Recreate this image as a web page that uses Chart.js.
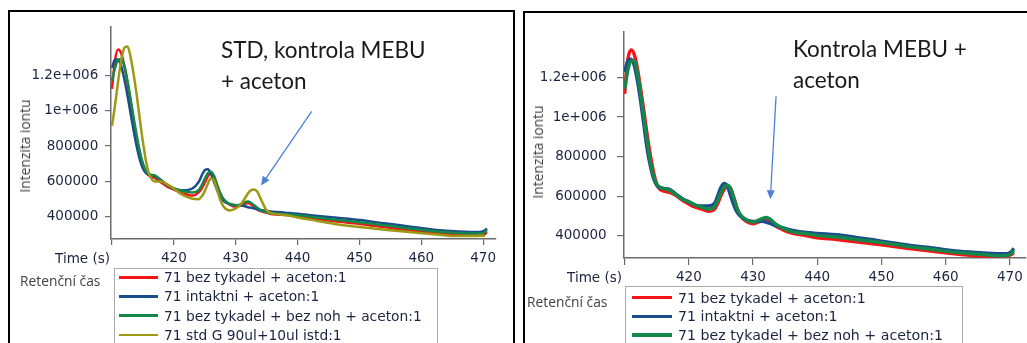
<!DOCTYPE html>
<html><head><meta charset="utf-8">
<script src="https://cdn.jsdelivr.net/npm/chart.js@4.4.1/dist/chart.umd.min.js"></script>
<style>
html,body{margin:0;padding:0;background:#fff;}
body{position:relative;width:1027px;height:343px;overflow:hidden;}
.panel{position:absolute;border:2px solid #000;box-sizing:border-box;}
#p1{left:8px;top:10px;width:507px;height:360px;}
#p2{left:523px;top:11px;width:530px;height:360px;}
canvas{position:absolute;}
.txt{position:absolute;white-space:nowrap;}
.title{font-family:Lato,'Open Sans',sans-serif;font-size:22.5px;line-height:31px;color:#1a1a1a;}
.ytitle{font-family:'Open Sans','Noto Sans',sans-serif;font-size:13.8px;line-height:16px;color:#404040;transform:translate(-50%,-50%) rotate(-90deg);}
.xtitle{font-family:'DejaVu Sans',Verdana,sans-serif;font-size:13.5px;line-height:16px;color:#1b2440;text-align:right;}
.ret{font-family:'Open Sans','Noto Sans',sans-serif;font-size:13.8px;line-height:16px;color:#404040;}
.legend{position:absolute;border:1px solid #ababab;background:#fff;box-sizing:border-box;font-family:'DejaVu Sans',Verdana,sans-serif;color:#1b2440;}
.legend .row{display:flex;align-items:center;white-space:nowrap;}
.legend .ln{display:inline-block;}
</style>
</head>
<body>
<div class="panel" id="p1"></div>
<div class="panel" id="p2"></div>
<canvas id="c1" width="500" height="290" style="left:11px;top:12px;width:500px;height:290px;"></canvas>
<canvas id="c2" width="501" height="300" style="left:526px;top:13px;width:501px;height:300px;"></canvas>

<div class="txt title" style="left:221px;top:34px;">STD, kontrola MEBU<br>+ aceton</div>
<div class="txt title" style="left:793px;top:33px;">Kontrola MEBU +<br>aceton</div>
<div class="txt ytitle" style="left:25px;top:146px;">Intenzita iontu</div>
<div class="txt ytitle" style="left:538px;top:152px;">Intenzita iontu</div>
<div class="txt xtitle" style="right:917px;top:250px;">Time (s)</div>
<div class="txt xtitle" style="right:405px;top:269px;">Time (s)</div>
<div class="txt ret" style="left:20px;top:273px;">Retenční čas</div>
<div class="txt ret" style="left:527px;top:294px;">Retenční čas</div>
<div class="legend" id="lg1" style="left:114px;top:268px;width:324px;height:90px;"></div>
<div class="legend" id="lg2" style="left:625px;top:286px;width:338px;height:80px;"></div>

<script>
// ---- data ----
const times = [410,410.5,411,411.5,412,412.5,413,413.5,414,414.5,415,415.5,416,417,418,419,420,421,422,423,424,424.5,425,425.5,426,426.5,427,427.5,428,429,430,431,431.5,432,432.5,433,433.5,434,435,436,438,440,443,446,450,454,458,462,466,468,469.5,470.3,470.6];

const leftLabels = ['71 bez tykadel + aceton:1','71 intaktni + aceton:1','71 bez tykadel + bez noh + aceton:1','71 std G 90ul+10ul istd:1'];
const rightLabels = ['71 bez tykadel + aceton:1','71 intaktni + aceton:1','71 bez tykadel + bez noh + aceton:1'];

const leftRed = [1123600,1287200,1345400,1323500,1250800,1159900,1050800,941800,841800,760000,690900,650900,632700,618200,592700,569100,
554500,538200,527300,520000,538200,560000,592700,629100,647200,629100,578200,532700,496400,469100,456400,465400,472700,478200,469100,456400,441800,432700,423600,414500,
410900,401800,387300,374500,360000,341800,323600,309000,300000,294500,294500,301800,314500];
const leftBlue = [1241700,1290000,1288000,1250800,1178100,1087200,987200,887200,796300,723600,672700,647200,638200,629100,605400,578200,
560000,550900,550900,560000,596300,632700,663600,669100,641800,596300,550900,514500,490900,472700,465400,463600,460000,454500,450900,447300,441800,438200,432700,429100,
423600,418000,405500,396400,381800,363600,345500,327300,316400,314500,314500,323600,334500];
const leftGreen = [1169000,1241700,1287200,1292600,1254500,1169000,1069000,959900,860000,769100,701800,660000,641800,632700,605400,578200,
559900,550900,541800,538200,550900,578200,614500,647200,654500,629100,578200,532700,501800,472700,465400,472700,483600,487300,478200,465400,450900,438200,425500,418200,
414000,409000,396400,383600,369000,352700,334500,318200,309000,305500,305500,314500,327300];
const leftOlive = [914500,1032700,1169000,1287200,1356300,1363500,1305400,1205400,1087200,950900,823600,714500,641800,600000,600000,581800,
560000,532700,514500,501800,500000,514500,545400,587300,618200,605400,550900,496400,460000,436400,447300,478200,505400,532700,550900,554500,541800,505400,436400,418200,
410900,396400,378200,360000,341800,327300,314500,301800,291000,291000,292700,292700,null];

const rightRed = [1117600,1291800,1339400,1315600,1244300,1141300,1030400,911600,808600,721500,661300,634300,626400,618500,602700,578900,
559900,544000,534500,523400,534500,563000,602700,634300,650200,639100,594700,539300,502800,471200,460100,471200,479100,483800,475900,463400,449200,439700,423800,412700,401600,389000,
380800,369700,353900,336500,320600,306400,296900,296900,298500,306400,314300];
const rightBlue = [1228500,1283900,1291800,1260100,1180900,1077900,959100,840300,753200,689800,654900,642300,639100,634300,610600,586800,
571000,555100,550400,550400,563000,602700,645400,664400,650200,602700,555100,518700,499700,479100,472700,472700,472700,468200,463400,457100,450800,446000,436500,428600,417500,411200,
404600,391900,372900,353900,338100,322200,312700,309500,309500,322200,336500];
const rightGreen = [1141300,1236400,1283900,1283900,1220500,1117600,998700,879900,776900,702500,661300,645400,639100,629600,607400,583600,
571000,555100,544000,534500,547200,578900,618500,645400,654900,639100,591600,539300,507600,479100,468200,480900,487200,492000,487200,474500,460100,449200,433300,420700,411200,401600,
393500,380800,365000,346000,330100,314300,304800,298500,300000,312700,325400];

const xTicks = [410,420,430,440,450,460,470];
const xTickLabels = ['','420','430','440','450','460','470'];
const yTicks = [400000,600000,800000,1000000,1200000];
const yTickLabels = ['400000','600000','800000','1e+006','1.2e+006'];

// arrow annotations in data coordinates [time, intensity]
const leftArrow = {from:[442.28, 996100], to:[434.09, 577300]};
const rightArrow = {from:[433.58, 1104900], to:[432.69, 584400]};

// ---- styles ----
const COLORS = {red:'#f41616', blue:'#1b4c8c', green:'#13884a', olive:'#9d9914'};
const TICK_FONT = "'DejaVu Sans', Verdana, sans-serif";
const TICK_COLOR = '#1b2440';
const AXIS_COLOR = '#6b6b6b';

const arrowPlugin = {
  id: 'arrowAnno',
  afterDatasetsDraw(chart, args, opts) {
    const {ctx, scales} = chart;
    (opts.arrows || []).forEach(a => {
      const x1 = scales.x.getPixelForValue(a.from[0]), y1 = scales.y.getPixelForValue(a.from[1]);
      const x2 = scales.x.getPixelForValue(a.to[0]), y2 = scales.y.getPixelForValue(a.to[1]);
      const ang = Math.atan2(y2 - y1, x2 - x1);
      const hl = 9, hw = 4;
      const bx = x2 - hl * Math.cos(ang), by = y2 - hl * Math.sin(ang);
      ctx.save();
      ctx.strokeStyle = opts.color; ctx.fillStyle = opts.color; ctx.lineWidth = 1.3;
      ctx.beginPath(); ctx.moveTo(x1, y1); ctx.lineTo(bx, by); ctx.stroke();
      ctx.beginPath(); ctx.moveTo(x2, y2);
      ctx.lineTo(bx + hw * Math.sin(ang), by - hw * Math.cos(ang));
      ctx.lineTo(bx - hw * Math.sin(ang), by + hw * Math.cos(ang));
      ctx.closePath(); ctx.fill();
      ctx.restore();
    });
  }
};

function makeChart(id, cfg) {
  const datasets = cfg.series.map((s, i) => ({
    label: s.label,
    data: times.map((t, k) => ({x: t, y: s.values[k]})),
    borderColor: s.color,
    backgroundColor: s.color,
    borderWidth: cfg.lineWidth,
    pointRadius: 0,
    cubicInterpolationMode: 'monotone',
    fill: false,
    order: s.order
  }));
  return new Chart(document.getElementById(id), {
    type: 'line',
    data: {datasets},
    plugins: [arrowPlugin],
    options: {
      responsive: false, animation: false, devicePixelRatio: 1,
      layout: {padding: cfg.padding},
      plugins: {legend: {display: false}, tooltip: {enabled: false},
        arrowAnno: {arrows: [cfg.arrow], color: '#4f7fd3'}},
      scales: {
        x: {
          type: 'linear', min: cfg.xMin, max: cfg.xMax,
          afterBuildTicks: s => { s.ticks = xTicks.map(v => ({value: v})); },
          afterFit: s => { s.height = 30; },
          ticks: {autoSkip: false, maxRotation: 0, padding: cfg.xPad, color: TICK_COLOR,
            font: {family: TICK_FONT, size: 13.5},
            callback: v => { const i = xTicks.indexOf(v); return i >= 0 ? xTickLabels[i] : ''; }},
          grid: {drawOnChartArea: false, drawTicks: true, tickLength: cfg.xTl, color: AXIS_COLOR, lineWidth: 1.2},
          border: {display: true, color: AXIS_COLOR, width: 1.5}
        },
        y: {
          type: 'linear', min: cfg.yMin, max: cfg.yMax,
          afterBuildTicks: s => { s.ticks = yTicks.map(v => ({value: v})); },
          afterFit: s => { s.width = cfg.yWidth; },
          ticks: {autoSkip: false, padding: cfg.yPad, color: TICK_COLOR,
            font: {family: TICK_FONT, size: 13.5},
            callback: v => { const i = yTicks.indexOf(v); return i >= 0 ? yTickLabels[i] : ''; }},
          grid: {drawOnChartArea: false, drawTicks: true, tickLength: cfg.yTl, color: AXIS_COLOR, lineWidth: 1.2},
          border: {display: true, color: AXIS_COLOR, width: 1.5}
        }
      }
    }
  });
}

const c1 = makeChart('c1', {
  series: [
    {label: leftLabels[0], values: leftRed, color: COLORS.red, order: 4},
    {label: leftLabels[1], values: leftBlue, color: COLORS.blue, order: 3},
    {label: leftLabels[2], values: leftGreen, color: COLORS.green, order: 2},
    {label: leftLabels[3], values: leftOlive, color: COLORS.olive, order: 1}
  ],
  lineWidth: 2.5,
  padding: {left: 0, top: 7, right: 15, bottom: 33},
  xMin: 409.84, xMax: 472.08, yMin: 274600, yMax: 1474300,
  yWidth: 100, yPad: 6.7, yTl: 6, xPad: 5, xTl: 6,
  arrow: leftArrow
});
const c2 = makeChart('c2', {
  series: [
    {label: rightLabels[0], values: rightRed, color: COLORS.red, order: 3},
    {label: rightLabels[1], values: rightBlue, color: COLORS.blue, order: 2},
    {label: rightLabels[2], values: rightGreen, color: COLORS.green, order: 1}
  ],
  lineWidth: 3.4,
  padding: {left: 0, top: 4, right: 1, bottom: 25},
  xMin: 409.9, xMax: 472.38, yMin: 287300, yMax: 1432900,
  yWidth: 98, yPad: 10.3, yTl: 7, xPad: 4.2, xTl: 7,
  arrow: rightArrow
});

function buildLegend(el, chart, o) {
  const wrap = document.createElement('div');
  wrap.style.position = 'relative';
  wrap.style.top = o.offset + 'px';
  chart.data.datasets.forEach(ds => {
    const row = document.createElement('div');
    row.className = 'row';
    row.style.height = o.rowH + 'px';
    row.style.fontSize = o.fontSize + 'px';
    const ln = document.createElement('span');
    ln.className = 'ln';
    ln.style.width = o.lineLen + 'px';
    ln.style.height = o.lineW + 'px';
    ln.style.background = ds.borderColor;
    ln.style.marginLeft = o.lead + 'px';
    ln.style.marginRight = o.gap + 'px';
    const tx = document.createElement('span');
    tx.textContent = ds.label;
    row.appendChild(ln); row.appendChild(tx);
    wrap.appendChild(row);
  });
  el.appendChild(wrap);
}
buildLegend(document.getElementById('lg1'), c1, {offset: -1.3, rowH: 19.2, fontSize: 13.8, lineLen: 39, lineW: 2.5, lead: 4, gap: 6});
buildLegend(document.getElementById('lg2'), c2, {offset: 1.3, rowH: 18.7, fontSize: 14.2, lineLen: 40, lineW: 3.5, lead: 6, gap: 6});
</script>
</body></html>
